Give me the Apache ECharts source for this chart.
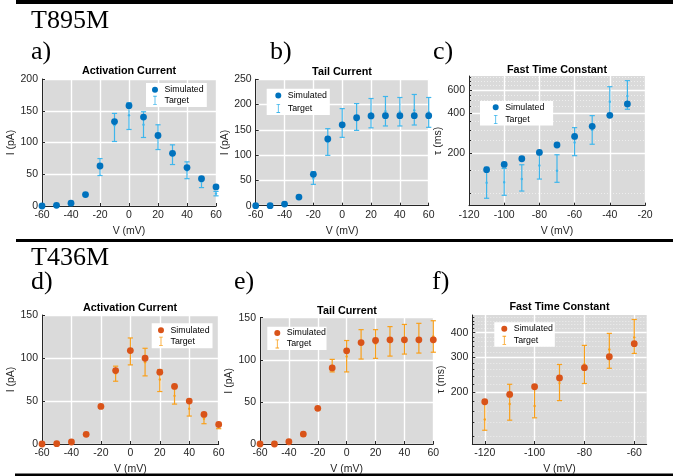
<!DOCTYPE html>
<html><head><meta charset="utf-8">
<script src="https://cdn.jsdelivr.net/npm/echarts@6/dist/echarts.min.js"></script>
<style>html,body{margin:0;padding:0;background:#fff}#c{width:673px;height:476px}</style>
</head><body><div id="c"></div>
<script>
// ---------- DATA ----------
const voltIV = [-60,-50,-40,-30,-20,-10,0,10,20,30,40,50,60];
const voltTauT895 = [-110,-100,-90,-80,-70,-60,-50,-40,-30];
const voltTauT436 = [-120,-110,-100,-90,-80,-70,-60];

// a) T895M activation current
const simActT895 = [0,1,4.5,18,63,133,158,140,111,83,60.5,43,30];
const tgtActT895 = [0,0.5,3,17,62,127,143,128,109,81,56,38,19.5];
const tgtActT895Low = [0,0,2,15,48,101.6,120.5,107.9,88.9,65.3,43,29,16];
const tgtActT895High = [0.5,1,4,19,74.7,145.8,162.6,148.4,127.9,96.3,69.5,45.8,23];
// b) T895M tail current
const simTailT895 = [0,0,3.3,17,62,132,160,174,177.5,178,178,178,178];
const tgtTailT895 = [0,0,3,16,54,126,163.6,175,183,187,186,189,185];
const tgtTailT895Low = [0,0,2,14,42.2,99.6,135.2,149,154,157.7,157.7,159.6,155];
const tgtTailT895High = [0.5,0.5,4,18,67.3,152.4,192,202,212,216,214,220,214];
// c) T895M fast time constant
const simTauT895 = [150.7,165,182,203,231,268,319,386,470];
const tgtTauT895 = [120,121,128,162,148,241,300,489,540];
const tgtTauT895Low = [91.8,96.6,104,128,121,192,234,377,429];
const tgtTauT895High = [157,154,164,202,195,312,384,634,704];
// d) T436M activation current
const simActT436 = [0,0.4,2.3,11.2,43.7,85.4,108.6,99.7,83.5,66.9,49.9,34.4,22.8];
const tgtActT436 = [0,0.3,2,10.5,43,82,107,95,75,56,41,29.4,20.5];
const tgtActT436Low = [0,0,1.5,9.5,42,73,92,79.2,61,46.4,32.5,23.6,17.8];
const tgtActT436High = [0.3,0.6,2.6,12,44.5,90.5,123.3,111.3,86.6,67.6,51.4,36,24.4];
// e) T436M tail current
const simTailT436 = [0,0,2.7,11.8,42.4,90.3,110.7,120.5,122.9,123.7,123.7,123.7,123.7];
const tgtTailT436 = [0,0,2.5,10,41,93,104,118,119,121.7,124.5,125.6,127.6];
const tgtTailT436Low = [0,0,2,9,40,85.6,85.6,100.9,101.7,104.4,106.8,108,109];
const tgtTailT436High = [0.3,0.3,3,11,42,100.5,122.9,135.8,135.8,139.4,142,143.3,146.4];
// f) T436M fast time constant
const simTauT436 = [178.6,194.6,212.8,236,266,302,352];
const tgtTauT436 = [145,174,170,222,277,329,379];
const tgtTauT436Low = [128,144,148,181,221,264,314];
const tgtTauT436High = [176,219,212,276,345,397,467];

// tick labels
const tauXTicksF = [-120,-100,-80,-60];
const tauYTicksC = [200,400,600];
const tauYMinorC = [100,150,250,300,350,450,500,550,650,700,750];
const tauYTicksF = [200,300,400];
const tauYMinorF = [120,140,160,180,220,240,260,280,320,340,360,380,420,440,460,480];

// ---------- STYLE / LAYOUT ----------
const BLUE='#0072BD', LBLUE='#3FB6EC', ORED='#D95319', ORANGE='#F9A01B';
const AX='#262626', FONT='Liberation Sans, Arial, sans-serif';

const panels = [
 {id:'a', x:voltIV, sim:simActT895, m:tgtActT895, lo:tgtActT895Low, hi:tgtActT895High, c:BLUE, tc:LBLUE,
  grid:{left:42,top:79,width:174,height:127}, xa:{min:-60,max:60,interval:20},
  ya:{type:'value',min:0,max:200,interval:50}, yname:'I (pA)', title:'Activation Current', tp:[129,71],
  lg:{left:146,top:83,pl:4.5,pr:3.2,rh:10.7,pv:1.3}},
 {id:'b', x:voltIV, sim:simTailT895, m:tgtTailT895, lo:tgtTailT895Low, hi:tgtTailT895High, c:BLUE, tc:LBLUE,
  grid:{left:255.7,top:79.3,width:173,height:126.4}, xa:{min:-60,max:60,interval:20},
  ya:{type:'value',min:0,max:250,interval:50}, yname:'I (pA)', title:'Tail Current', tp:[342,72],
  lg:{left:266.7,top:88.7,pl:7.1,pr:2.9,rh:13,pv:0.2}},
 {id:'c', x:voltTauT895, sim:simTauT895, m:tgtTauT895, lo:tgtTauT895Low, hi:tgtTauT895High, c:BLUE, tc:LBLUE,
  grid:{left:469,top:76,width:176,height:129.7}, xa:{min:-120,max:-20,interval:20},
  ya:{type:'log',min:80.7,max:763,ticks:tauYTicksC,minor:tauYMinorC}, yname:'τ (ms)', title:'Fast Time Constant', tp:[557,70],
  lg:{left:480,top:101,pl:11.2,pr:8.8,rh:12.3,pv:0}},
 {id:'d', x:voltIV, sim:simActT436, m:tgtActT436, lo:tgtActT436Low, hi:tgtActT436High, c:ORED, tc:ORANGE,
  grid:{left:42,top:315,width:176.7,height:129.3}, xa:{min:-60,max:60,interval:20},
  ya:{type:'value',min:0,max:150,interval:50}, yname:'I (pA)', title:'Activation Current', tp:[130,308],
  lg:{left:151.7,top:323.3,pl:4.8,pr:2.9,rh:11,pv:1.5}},
 {id:'e', x:voltIV, sim:simTailT436, m:tgtTailT436, lo:tgtTailT436Low, hi:tgtTailT436High, c:ORED, tc:ORANGE,
  grid:{left:260,top:317.7,width:173.3,height:127.3}, xa:{min:-60,max:60,interval:20},
  ya:{type:'value',min:0,max:150,interval:50}, yname:'I (pA)', title:'Tail Current', tp:[347,311],
  lg:{left:267.3,top:326.7,pl:5.5,pr:0.6,rh:11,pv:0.7}},
 {id:'f', x:voltTauT436, sim:simTauT436, m:tgtTauT436, lo:tgtTauT436Low, hi:tgtTauT436High, c:ORED, tc:ORANGE,
  grid:{left:472.3,top:315,width:174.4,height:129}, xa:{min:-125,max:-55,custom:tauXTicksF},
  ya:{type:'log',min:109,max:492,ticks:tauYTicksF,minor:tauYMinorF}, yname:'τ (ms)', title:'Fast Time Constant', tp:[559.5,307.3],
  lg:{left:494.3,top:322.3,pl:5.5,pr:1.9,rh:11.7,pv:0.5}}
];

const ICON_DOT = 'path://M0,0h0.01v0.01h-0.01zM9,9h0.01v0.01h-0.01zM7.5,4.5A3,3,0,1,1,1.5,4.5A3,3,0,1,1,7.5,4.5z';
const ICON_BAR = 'path://M0,0H4V0.9H2.45V9.1H4V10H0V9.1H1.55V0.9H0Z';

function errRender(color){
  return function(params, api){
    const x = api.value(0);
    const pm = api.coord([x, api.value(1)]);
    const pl = api.coord([x, api.value(2)]);
    const ph = api.coord([x, api.value(3)]);
    const w = 2.6, st = {stroke: color, lineWidth: 1.2};
    return {type:'group', children:[
      {type:'line', shape:{x1:pl[0],y1:pl[1],x2:ph[0],y2:ph[1]}, style:st},
      {type:'line', shape:{x1:pl[0]-w,y1:pl[1],x2:pl[0]+w,y2:pl[1]}, style:st},
      {type:'line', shape:{x1:ph[0]-w,y1:ph[1],x2:ph[0]+w,y2:ph[1]}, style:st},
      {type:'circle', shape:{cx:pm[0],cy:pm[1],r:1.2}, style:{fill:color}}
    ]};
  };
}

const grids=[], xAxes=[], yAxes=[], series=[], legends=[], graphics=[];
const labelStyle = {color:AX, fontSize:10.5, fontFamily:FONT};
const split = {show:true, lineStyle:{color:'#ffffff', width:1.4}};

panels.forEach((p, gi) => {
  grids.push(Object.assign({show:true, backgroundColor:'#dadada', borderWidth:0, containLabel:false}, p.grid));
  const xa = {type:'value', gridIndex:gi, min:p.xa.min, max:p.xa.max,
    name:'V (mV)', nameLocation:'middle', nameGap:20, nameTextStyle:{color:AX,fontSize:10.5,fontFamily:FONT},
    axisLine:{show:true, onZero:false, lineStyle:{color:AX,width:1}},
    axisTick:{show:true, inside:true, length:3, lineStyle:{color:AX}},
    axisLabel:Object.assign({margin:4}, labelStyle), splitLine:split};
  if (p.xa.custom){ xa.axisLabel.customValues = p.xa.custom; xa.axisTick.customValues = p.xa.custom; }
  else xa.interval = p.xa.interval;
  xAxes.push(xa);
  const ya = {gridIndex:gi, type:p.ya.type, min:p.ya.min, max:p.ya.max,
    name:p.yname, nameLocation:'middle', nameGap:20, nameTextStyle:{color:AX,fontSize:10.5,fontFamily:FONT},
    axisLine:{show:true, onZero:false, lineStyle:{color:AX,width:1}},
    axisTick:{show:true, inside:true, length:3, lineStyle:{color:AX}},
    axisLabel:Object.assign({margin:4}, labelStyle), splitLine:split};
  let yIdx = yAxes.length;
  if (p.ya.type==='log'){
    ya.logBase = 10;
    ya.axisLabel.customValues = p.ya.ticks; ya.axisTick.customValues = p.ya.ticks;
    ya.axisLabel.formatter = v => String(Math.round(v));
    yAxes.push(ya);
    yAxes.push({gridIndex:gi, type:'log', logBase:10, min:p.ya.min, max:p.ya.max, position:'left',
      axisLine:{show:false}, axisLabel:{show:false},
      axisTick:{show:true, inside:true, length:2, customValues:p.ya.minor, lineStyle:{color:AX}},
      splitLine:{show:true, lineStyle:{color:'#eeeeee', width:1, type:[1,2]}}});
  } else {
    ya.interval = p.ya.interval;
    yAxes.push(ya);
  }
  const sName = 'Simulated_'+p.id, tName = 'Target_'+p.id;
  series.push({type:'custom', name:tName, xAxisIndex:gi, yAxisIndex:yIdx,
    data:p.x.map((v,i)=>[v, p.m[i], p.lo[i], p.hi[i]]), encode:{x:0, y:[1,2,3]},
    itemStyle:{color:p.tc}, renderItem:errRender(p.tc), z:3});
  series.push({type:'scatter', name:sName, xAxisIndex:gi, yAxisIndex:yIdx,
    data:p.x.map((v,i)=>[v, p.sim[i]]), symbol:'circle', symbolSize:6.8,
    itemStyle:{color:p.c, opacity:1}, z:4});
  const L = p.lg;
  legends.push({left:L.left, top:L.top, orient:'vertical', selectedMode:false,
    backgroundColor:'#ffffff', borderWidth:0, padding:[L.pv, L.pr, L.pv, L.pl],
    itemWidth:9, itemHeight:9, itemGap:0, symbolKeepAspect:true,
    textStyle:{fontSize:8.8, fontFamily:FONT, color:'#000', lineHeight:L.rh},
    formatter: n => n.split('_')[0],
    data:[{name:sName, icon:ICON_DOT, itemStyle:{color:p.c}},
          {name:tName, icon:ICON_BAR, itemStyle:{color:p.tc}}]});
  graphics.push({type:'text', x:p.tp[0], y:p.tp[1], style:{text:p.title, fontSize:10.8, fontWeight:'bold',
    fontFamily:FONT, fill:'#000', align:'center', verticalAlign:'middle'}});
});

const serif = {fontSize:26, fontFamily:'Liberation Serif, Times New Roman, serif', fill:'#000', verticalAlign:'middle', align:'left'};
[['T895M',31,21],['a)',31,52],['b)',270,52],['c)',433,52],
 ['T436M',31,258.5],['d)',31,282],['e)',234,282],['f)',432,282]].forEach(t=>{
  graphics.push({type:'text', x:t[1], y:t[2], style:Object.assign({text:t[0]}, serif)});
});
graphics.push({type:'rect', shape:{x:16,y:0,width:657,height:4}, style:{fill:'#000'}});
graphics.push({type:'rect', shape:{x:16,y:239,width:657,height:3}, style:{fill:'#000'}});
graphics.push({type:'rect', shape:{x:15,y:473.5,width:658,height:2.5}, style:{fill:'#000'}});

const chart = echarts.init(document.getElementById('c'), null, {renderer:'canvas'});
chart.setOption({animation:false, backgroundColor:'#ffffff', grid:grids, xAxis:xAxes, yAxis:yAxes,
  series:series, legend:legends, graphic:graphics});
</script></body></html>
